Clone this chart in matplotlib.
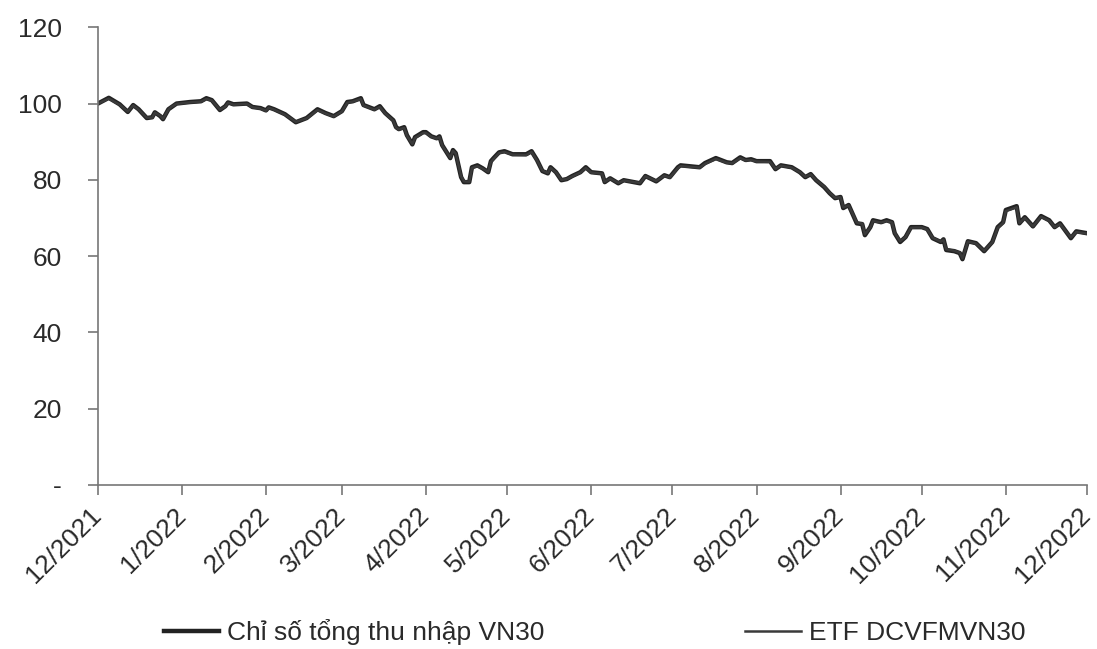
import numpy as np
import pandas as pd
import matplotlib.pyplot as plt
import matplotlib.dates as mdates

plt.rcParams['font.family'] = ['Liberation Sans', 'DejaVu Sans']

# date, total return index VN30, ETF DCVFMVN30
dates = [
    '2021-12-01', '2021-12-05', '2021-12-09', '2021-12-12', '2021-12-14', '2021-12-16',
    '2021-12-19', '2021-12-21', '2021-12-22', '2021-12-24', '2021-12-25', '2021-12-27',
    '2021-12-28', '2021-12-30', '2022-01-04', '2022-01-08', '2022-01-10', '2022-01-12',
    '2022-01-15', '2022-01-17', '2022-01-18', '2022-01-20', '2022-01-25', '2022-01-27',
    '2022-01-30', '2022-02-01', '2022-02-02', '2022-02-04', '2022-02-08', '2022-02-12',
    '2022-02-16', '2022-02-20', '2022-02-23', '2022-02-26', '2022-03-01', '2022-03-03',
    '2022-03-05', '2022-03-08', '2022-03-09', '2022-03-13', '2022-03-15', '2022-03-17',
    '2022-03-20', '2022-03-21', '2022-03-22', '2022-03-24', '2022-03-25', '2022-03-27',
    '2022-03-28', '2022-03-31', '2022-04-01', '2022-04-03', '2022-04-05', '2022-04-06',
    '2022-04-07', '2022-04-10', '2022-04-11', '2022-04-12', '2022-04-14', '2022-04-15',
    '2022-04-17', '2022-04-18', '2022-04-20', '2022-04-22', '2022-04-24', '2022-04-25',
    '2022-04-26', '2022-04-28', '2022-04-30', '2022-05-03', '2022-05-08', '2022-05-10',
    '2022-05-12', '2022-05-14', '2022-05-16', '2022-05-17', '2022-05-19', '2022-05-21',
    '2022-05-23', '2022-05-25', '2022-05-28', '2022-05-30', '2022-06-01', '2022-06-05',
    '2022-06-06', '2022-06-08', '2022-06-11', '2022-06-13', '2022-06-19', '2022-06-21',
    '2022-06-25', '2022-06-28', '2022-06-30', '2022-07-03', '2022-07-04', '2022-07-11',
    '2022-07-13', '2022-07-17', '2022-07-21', '2022-07-23', '2022-07-26', '2022-07-28',
    '2022-07-30', '2022-08-01', '2022-08-06', '2022-08-08', '2022-08-10', '2022-08-14',
    '2022-08-17', '2022-08-19', '2022-08-21', '2022-08-23', '2022-08-26', '2022-08-28',
    '2022-08-30', '2022-09-01', '2022-09-02', '2022-09-04', '2022-09-07', '2022-09-09',
    '2022-09-10', '2022-09-12', '2022-09-13', '2022-09-16', '2022-09-18', '2022-09-20',
    '2022-09-21', '2022-09-23', '2022-09-25', '2022-09-27', '2022-09-29', '2022-10-01',
    '2022-10-03', '2022-10-05', '2022-10-08', '2022-10-09', '2022-10-10', '2022-10-13',
    '2022-10-15', '2022-10-16', '2022-10-18', '2022-10-21', '2022-10-24', '2022-10-27',
    '2022-10-29', '2022-10-31', '2022-11-01', '2022-11-05', '2022-11-06', '2022-11-08',
    '2022-11-11', '2022-11-14', '2022-11-17', '2022-11-19', '2022-11-21', '2022-11-25',
    '2022-11-27', '2022-12-01',
]
vn30_tr = [
    100.0, 101.5, 99.8, 97.8, 99.6, 98.5,
    96.2, 96.4, 97.7, 96.7, 95.9, 98.5,
    99.0, 100.0, 100.4, 100.6, 101.4, 100.9,
    98.3, 99.3, 100.3, 99.8, 100.0, 99.1,
    98.8, 98.2, 99.0, 98.5, 97.2, 95.1,
    96.2, 98.5, 97.5, 96.7, 98.0, 100.4,
    100.6, 101.4, 99.6, 98.5, 99.3, 97.5,
    95.6, 93.8, 93.3, 93.8, 91.7, 89.3,
    91.2, 92.5, 92.5, 91.4, 90.9, 91.4,
    89.1, 85.7, 87.8, 87.0, 80.7, 79.4,
    79.4, 83.3, 83.8, 83.0, 82.0, 84.9,
    85.7, 87.2, 87.5, 86.7, 86.7, 87.5,
    85.2, 82.3, 81.7, 83.3, 82.0, 79.9,
    80.2, 81.0, 82.0, 83.3, 82.0, 81.7,
    79.4, 80.4, 79.1, 79.9, 79.1, 81.0,
    79.6, 81.2, 80.7, 83.3, 83.8, 83.3,
    84.4, 85.7, 84.6, 84.4, 85.9, 85.2,
    85.4, 84.9, 84.9, 82.8, 83.8, 83.3,
    82.0, 80.7, 81.5, 79.9, 78.1, 76.5,
    75.2, 75.5, 72.6, 73.4, 68.6, 68.4,
    65.5, 67.6, 69.4, 68.9, 69.4, 68.9,
    66.0, 63.7, 65.0, 67.6, 67.6, 67.6,
    67.1, 64.7, 63.7, 64.4, 61.6, 61.3,
    60.8, 59.2, 63.9, 63.4, 61.3, 63.7,
    67.6, 68.9, 72.1, 73.1, 68.6, 70.2,
    67.8, 70.5, 69.4, 67.6, 68.6, 64.7,
    66.5, 66.0,
]
etf_dcvfmvn30 = [
    100.0, 101.3, 99.7, 97.9, 99.5, 98.4,
    96.3, 96.3, 97.6, 96.8, 96.0, 98.4,
    99.1, 99.9, 100.3, 100.5, 101.2, 100.8,
    98.4, 99.2, 100.2, 99.7, 99.9, 99.0,
    98.7, 98.1, 98.9, 98.4, 97.1, 95.2,
    96.1, 98.3, 97.4, 96.6, 97.9, 100.2,
    100.5, 101.2, 99.5, 98.4, 99.1, 97.4,
    95.5, 93.7, 93.2, 93.6, 91.6, 89.4,
    91.0, 92.3, 92.3, 91.3, 90.8, 91.2,
    89.0, 85.8, 87.6, 86.9, 80.9, 79.6,
    79.5, 83.1, 83.6, 82.9, 82.1, 84.7,
    85.5, 87.0, 87.3, 86.6, 86.5, 87.3,
    85.1, 82.4, 81.8, 83.1, 82.0, 80.0,
    80.2, 80.9, 81.9, 83.1, 81.9, 81.6,
    79.5, 80.3, 79.2, 79.8, 79.2, 80.9,
    79.7, 81.1, 80.6, 83.1, 83.6, 83.2,
    84.2, 85.5, 84.5, 84.3, 85.7, 85.1,
    85.2, 84.8, 84.7, 82.9, 83.7, 83.2,
    82.0, 80.8, 81.4, 79.9, 78.2, 76.6,
    75.3, 75.4, 72.8, 73.3, 68.8, 68.5,
    65.7, 67.5, 69.2, 68.8, 69.2, 68.8,
    66.1, 63.9, 65.0, 67.4, 67.5, 67.5,
    67.0, 64.8, 63.8, 64.3, 61.8, 61.4,
    60.9, 59.4, 63.8, 63.3, 61.4, 63.6,
    67.4, 68.7, 71.8, 72.8, 68.7, 70.0,
    67.8, 70.3, 69.3, 67.6, 68.4, 64.9,
    66.3, 65.9,
]
month_ticks = pd.date_range('2021-12-01', '2022-12-01', freq='MS')
month_labels = ['12/2021', '1/2022', '2/2022', '3/2022', '4/2022', '5/2022', '6/2022',
                '7/2022', '8/2022', '9/2022', '10/2022', '11/2022', '12/2022']
y_ticks = [0, 20, 40, 60, 80, 100, 120]
y_labels = ['-', '20', '40', '60', '80', '100', '120']

x = pd.to_datetime(dates)

fig = plt.figure(figsize=(10.97, 6.49), dpi=100)
ax = fig.add_axes([0.0893, 0.2527, 0.9017, 0.7053])

ax.plot(x, vn30_tr, color='#222222', linewidth=3.2, label='Chỉ số tổng thu nhập VN30')
ax.plot(x, etf_dcvfmvn30, color='#3a3a3a', linewidth=1.8, label='ETF DCVFMVN30')

ax.set_xlim(month_ticks[0], month_ticks[-1])
ax.set_ylim(0, 120)
ax.set_xticks(month_ticks)
ax.set_xticklabels(month_labels, rotation=45, ha='right', va='center',
                   rotation_mode='anchor')
ax.set_yticks(y_ticks)
ax.set_yticklabels(y_labels)

for s in ['top', 'right']:
    ax.spines[s].set_visible(False)
for s in ['left', 'bottom']:
    ax.spines[s].set_color('#777777')
    ax.spines[s].set_linewidth(1.2)
ax.tick_params(axis='both', colors='#777777', length=7, width=1.2, direction='out')
ax.tick_params(axis='both', labelcolor='#2a2a2a', labelsize=19)
ax.tick_params(axis='y', pad=19)
ax.tick_params(axis='x', pad=12)

fig.legend(loc='center', bbox_to_anchor=(0.542, 0.026), ncol=2, frameon=False,
           fontsize=19, handlelength=2.1, handletextpad=0.3, columnspacing=7.6,
           labelcolor='#2a2a2a')

fig.savefig('out.png', dpi=100)
